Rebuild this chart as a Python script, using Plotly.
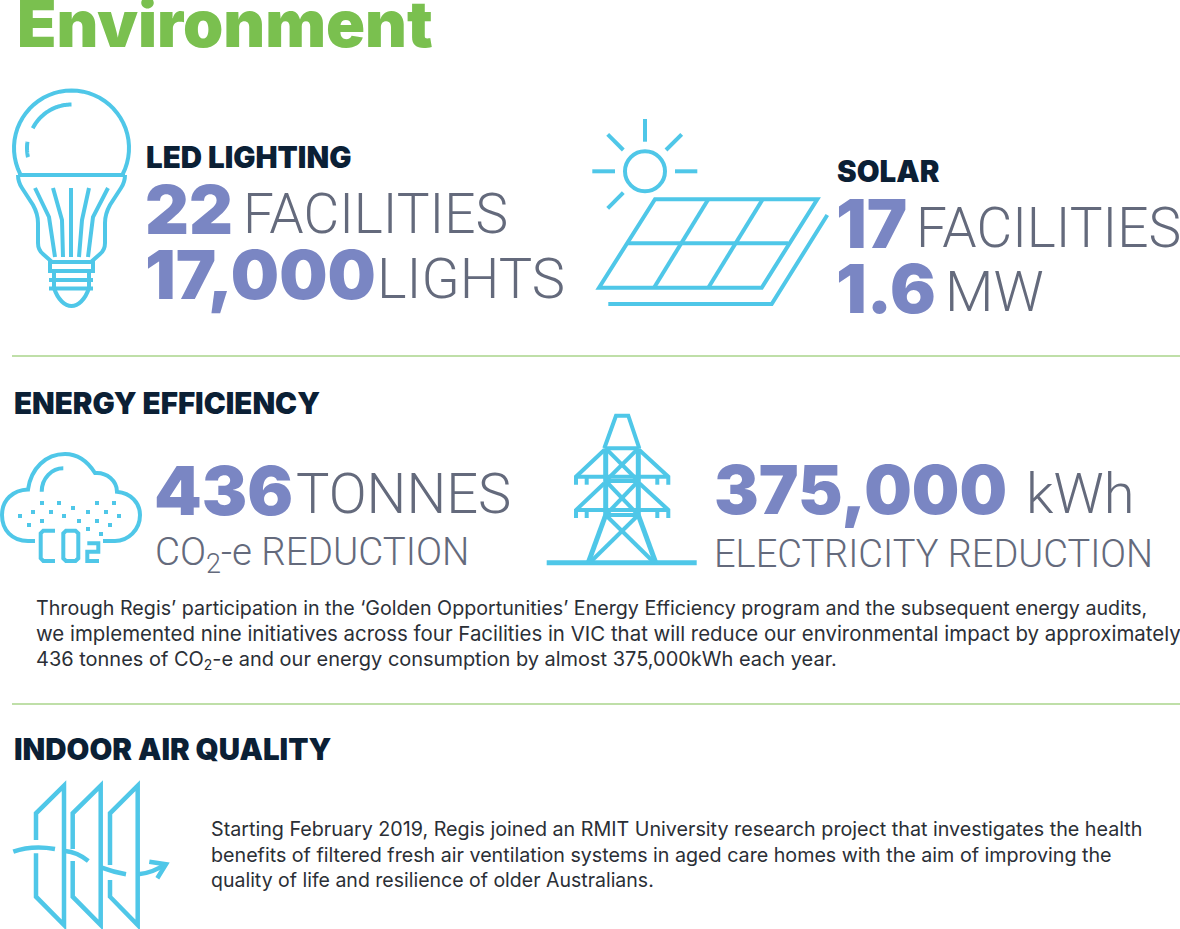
import math

import plotly.graph_objects as go

title = "Environment"
section_labels = ["LED LIGHTING", "SOLAR", "ENERGY EFFICIENCY", "INDOOR AIR QUALITY"]
led_values = ["22", "17,000"]
led_units = ["FACILITIES", "LIGHTS"]
solar_values = ["17", "1.6"]
solar_units = ["FACILITIES", "MW"]
energy_values = ["436", "375,000"]
energy_units = ["TONNES", "kWh"]
energy_captions = ["CO<sub>2</sub>-e REDUCTION", "ELECTRICITY REDUCTION"]
energy_text = [
    "Through Regis’ participation in the ‘Golden Opportunities’ Energy Efficiency program and the subsequent energy audits,",
    "we implemented nine initiatives across four Facilities in VIC that will reduce our environmental impact by approximately",
    "436 tonnes of CO<sub>2</sub>-e and our energy consumption by almost 375,000kWh each year.",
]
air_text = [
    "Starting February 2019, Regis joined an RMIT University research project that investigates the health",
    "benefits of filtered fresh air ventilation systems in aged care homes with the aim of improving the",
    "quality of life and resilience of older Australians.",
]

GREEN = "#7ac04f"
RULE = "#bfdfa8"
NAVY = "#0b2035"
PURPLE = "#7a86c3"
GREY = "#646a7c"
BODY = "#2b2f36"
ICON = "#4fc7e8"

annotations = []
shapes = []


def label(x, baseline, text, size, color, weight=400, family="Inter"):
    annotations.append(dict(
        x=x, y=baseline - 0.36 * size, text=text, showarrow=False,
        xanchor="left", yanchor="middle", borderpad=0, borderwidth=0,
        font=dict(family=family, size=size, color=color, weight=weight),
    ))


def heading(x, baseline, text):
    label(x, baseline, text, 29.5, NAVY, 900)


def number(x, baseline, text, size=68):
    label(x, baseline, text, size, PURPLE, 900)


def unit(x, baseline, text, size=56):
    label(x, baseline, text, size, GREY, 300, "Roboto")


def stroke(path, width=4):
    shapes.append(dict(type="path", path=path, line=dict(color=ICON, width=width)))


def poly(points, width=4, close=False):
    path = "M " + " L ".join(f"{x} {y}" for x, y in points)
    stroke(path + (" Z" if close else ""), width)


def arc(cx, cy, r, start, end, width=4):
    steps = 40
    angles = [math.radians(start + (end - start) * i / steps) for i in range(steps + 1)]
    poly([(cx + r * math.cos(a), cy + r * math.sin(a)) for a in angles], width)


def circle(cx, cy, r, width=4):
    shapes.append(dict(type="circle", x0=cx - r, x1=cx + r, y0=cy - r, y1=cy + r,
                       line=dict(color=ICON, width=width)))


def draw_bulb():
    arc(71.5, 148, 57.5, 153, 387)
    poly([(18, 175), (125, 175)])
    stroke("M 18 175 Q 18 182 22 188 L 33 205 Q 38 214 38 223 L 38 243 Q 38 250 43 254 L 52 262")
    stroke("M 125 175 Q 125 182 121 188 L 110 205 Q 105 214 105 223 L 105 243 Q 105 250 100 254 L 91 262")
    poly([(35, 188), (49, 217), (55, 257)])
    poly([(53, 188), (62, 220), (63, 257)])
    poly([(71, 188), (71, 257)])
    poly([(89, 188), (82, 220), (79, 257)])
    poly([(108, 188), (93, 217), (88, 257)])
    poly([(50, 262), (93, 262), (93, 271), (50, 271)], close=True)
    poly([(49, 280), (93, 280)])
    poly([(49, 288.5), (93, 288.5)])
    poly([(54, 271), (54, 288)])
    poly([(89, 271), (89, 288)])
    stroke("M 54 288 C 58 300 65 306 71.5 306 C 78 306 85 300 89 288")
    arc(71.5, 148, 43.5, 207, 270)
    arc(71.5, 148, 44.5, 168, 188)


def draw_solar():
    circle(645, 171.3, 20)
    for ray in [
        [(645, 119), (645, 141.7)],
        [(592.3, 171.3), (615, 171.3)],
        [(675, 171.3), (697.3, 171.3)],
        [(607.7, 134.3), (623.3, 150)],
        [(681.7, 134.3), (666, 150)],
        [(607.7, 208.3), (623.3, 192.7)],
    ]:
        poly(ray)
    poly([(655, 199.3), (817.3, 199.3), (761.7, 287.7), (599, 287.7)], close=True)
    poly([(627.7, 243.3), (788.3, 243.3)])
    poly([(708.3, 199.3), (654, 287.7)])
    poly([(762.7, 199.3), (708.3, 287.7)])
    poly([(608.3, 304), (771.7, 304), (827.3, 215)])


def draw_cloud():
    stroke("M 35 541 L 28 541 C 12 541 2 530 2 515 C 2 500 13 490 28 489.5 "
           "C 31 468 46 454 65 454 C 78 454 88 462 95 473 C 107 472 117 481 117 491.7 "
           "C 131 493 140 503 140 515 C 140 530 128 541 115 541 L 103 541")
    stroke("M 41.7 491.7 C 41.7 478 52 468.3 63.3 468.3")
    for x, y in [(42, 503), (59, 503), (97, 503), (114, 503), (73, 508), (33, 512),
                 (51, 512), (88, 512), (106, 512), (20, 516), (64, 516), (119, 516),
                 (42, 521), (79, 521), (97, 521), (29, 525), (110, 525), (88, 529), (101, 534)]:
        shapes.append(dict(type="rect", x0=x - 2, x1=x + 2, y0=y - 2, y1=y + 2,
                           fillcolor=ICON, line=dict(width=0)))
    poly([(55, 530.7), (43.3, 530.7), (40.7, 533.3), (40.7, 558.3), (43.3, 561), (55, 561)])
    poly([(66, 530.7), (75.5, 530.7), (78.3, 533.3), (78.3, 558.3), (75.5, 561), (66, 561),
          (63.3, 558.3), (63.3, 533.3)], close=True)
    poly([(87.3, 543.3), (98.3, 543.3), (98.3, 551.7), (87.3, 551.7), (87.3, 561), (99, 561)])


def draw_tower():
    poly([(546.7, 562.7), (696.7, 562.7)], 5)
    poly([(604.3, 448.3), (616, 415.7), (628.3, 415.7), (639.3, 448.3)])
    for y in [448.3, 481, 515]:
        poly([(605.7, y), (638.3, y)])
    poly([(605.7, 448.3), (605.7, 515)], 5)
    poly([(638.3, 448.3), (638.3, 515)], 5)
    poly([(605.7, 515), (588.3, 562.7)], 5)
    poly([(638.3, 515), (655.7, 562.7)], 5)
    poly([(605.7, 515), (653.3, 561.7)])
    poly([(638.3, 515), (590.7, 561.7)])
    for top, bottom in [(448.3, 481), (481, 515)]:
        poly([(605.7, top), (638.3, bottom)])
        poly([(638.3, top), (605.7, bottom)])
    for y0, y1 in [(450, 476.7), (483.3, 510)]:
        poly([(576, y1 + 8), (576, y1), (604.3, y0)])
        poly([(668.3, y1 + 8), (668.3, y1), (639.3, y0)])
        poly([(576, y1), (668.3, y1)])
        poly([(586.7, y1), (586.7, y1 + 8)])
        poly([(657.3, y1), (657.3, y1 + 8)])


def draw_filter():
    panels = [(36, 64, 840, 853.3), (72.7, 100.7, 849, 861), (110, 137.7, 865, 880)]
    for left, right, gap_top, gap_bottom in panels:
        poly([(left, gap_top), (left, 813.3), (right, 785.7), (right, 925), (left, 896.7), (left, gap_bottom)], 4.5)
    stroke("M 13.3 851.7 Q 32 845 55 849", 4.5)
    stroke("M 65 851 Q 77 852 88.3 861", 4.5)
    stroke("M 101.7 867.7 Q 113 872 126 874.3", 4.5)
    stroke("M 138.3 874.3 Q 153 873 165 864.3", 4.5)
    poly([(149.3, 861.7), (166, 864.3), (157.3, 878.3)], 4.5)


draw_bulb()
draw_solar()
draw_cloud()
draw_tower()
draw_filter()

for y in [356, 704]:
    shapes.append(dict(type="line", x0=12, x1=1180, y0=y, y1=y, line=dict(color=RULE, width=2)))

label(17, 47, title, 64.5, GREEN, 900)

heading(146, 168, section_labels[0])
number(145, 233.5, led_values[0])
unit(243, 234, led_units[0], 55)
number(145, 298.5, led_values[1])
unit(377, 299, led_units[1])

heading(837, 182, section_labels[1])
number(836, 247, solar_values[0])
unit(916, 247.5, solar_units[0], 55)
number(836, 312, solar_values[1])
unit(945, 312.5, solar_units[1])

heading(14, 414, section_labels[2])
number(154, 514, energy_values[0])
unit(296, 514.5, energy_units[0])
label(155, 568, energy_captions[0], 38.5, GREY, 300, "Roboto")
number(714, 514, energy_values[1], 67)
unit(1026, 514.5, energy_units[1])
label(714, 568, energy_captions[1], 38, GREY, 300, "Roboto")

for baseline, size, line in zip([615, 641, 667], [19.67, 20.43, 19.98], energy_text):
    label(36, baseline, line, size, BODY)

heading(14, 760, section_labels[3])
for baseline, size, line in zip([836, 862, 887], [19.72, 19.68, 19.5], air_text):
    label(211, baseline, line, size, BODY)

fig = go.Figure()
fig.update_layout(
    width=1180,
    height=929,
    margin=dict(l=0, r=0, t=0, b=0),
    paper_bgcolor="white",
    plot_bgcolor="white",
    showlegend=False,
    xaxis=dict(range=[0, 1180], visible=False, fixedrange=True),
    yaxis=dict(range=[929, 0], visible=False, fixedrange=True),
    annotations=annotations,
    shapes=shapes,
)

fig.write_html("out.html", config=dict(displayModeBar=False),
               post_script="document.body.style.margin = '0';")
